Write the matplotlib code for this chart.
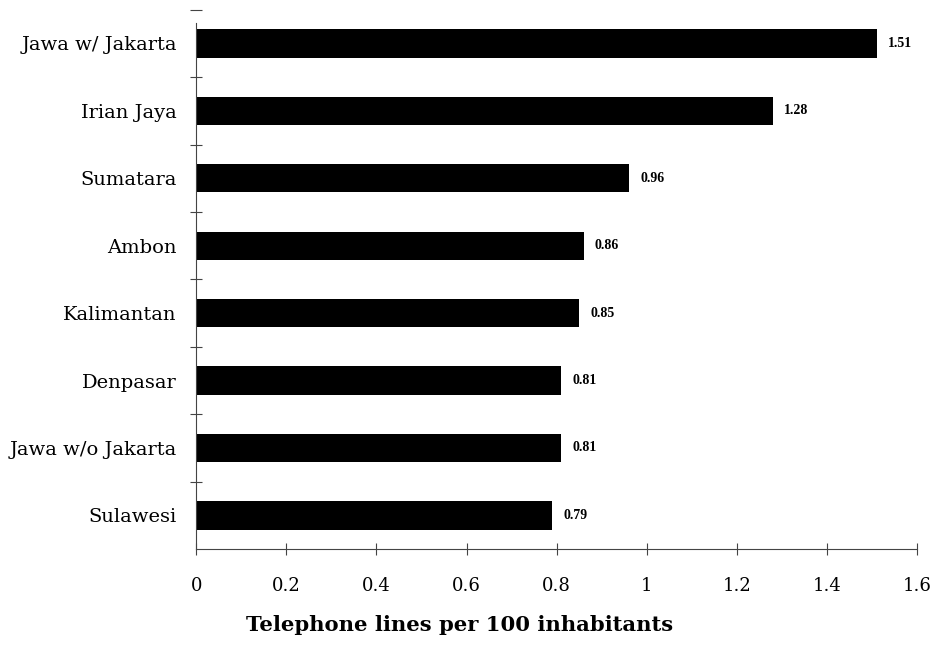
import matplotlib.pyplot as plt
from matplotlib.ticker import FixedLocator, NullFormatter

regions = ["Jawa w/ Jakarta", "Irian Jaya", "Sumatara", "Ambon", "Kalimantan",
           "Denpasar", "Jawa w/o Jakarta", "Sulawesi"]
lines_per_100 = [1.51, 1.28, 0.96, 0.86, 0.85, 0.81, 0.81, 0.79]
value_labels = ["1.51", "1.28", "0.96", "0.86", "0.85", "0.81", "0.81", "0.79"]
x_ticks = [0, 0.2, 0.4, 0.6, 0.8, 1, 1.2, 1.4, 1.6]
x_tick_labels = ["0", "0.2", "0.4", "0.6", "0.8", "1", "1.2", "1.4", "1.6"]

plt.rcParams["font.family"] = ["DejaVu Serif"]

fig = plt.figure(figsize=(9.34, 6.49), dpi=100)
ax = fig.add_axes([0.21, 0.154, 0.772, 0.831])

pos = list(range(len(regions)))
ax.barh(pos, lines_per_100, height=0.42, color="black")
for y, v, lab in zip(pos, lines_per_100, value_labels):
    ax.text(v + 0.025, y, lab, va="center", ha="left", fontsize=10,
            family="Liberation Serif", fontweight="bold")

ax.set_ylim(len(regions) - 0.5, -0.5)
ax.set_xlim(0, 1.6)

# category names as minor ticks, boundary marks as major ticks
ax.yaxis.set_major_locator(FixedLocator([i + 0.5 for i in range(len(regions) - 1)] + [-0.5]))
ax.yaxis.set_major_formatter(NullFormatter())
ax.yaxis.set_minor_locator(FixedLocator(pos))
ax.set_yticklabels(regions, minor=True, fontsize=14)
ax.tick_params(axis="y", which="minor", length=0, pad=14)
ax.tick_params(axis="y", which="major", direction="inout", length=9, width=0.8, color="#444444")

ax.set_xticks(x_ticks)
ax.set_xticklabels(x_tick_labels, fontsize=13)
ax.tick_params(axis="x", direction="inout", length=8, width=0.8, color="#444444", pad=16)

for side in ["top", "right"]:
    ax.spines[side].set_visible(False)
for side in ["left", "bottom"]:
    ax.spines[side].set_color("#444444")
    ax.spines[side].set_linewidth(0.8)
ax.spines["left"].set_bounds(len(regions) - 0.5, -0.3)

fig.text(0.4925, 0.037, "Telephone lines per 100 inhabitants", ha="center", va="center",
         fontsize=15.2, fontweight="bold")

plt.savefig("out.png", dpi=100)
